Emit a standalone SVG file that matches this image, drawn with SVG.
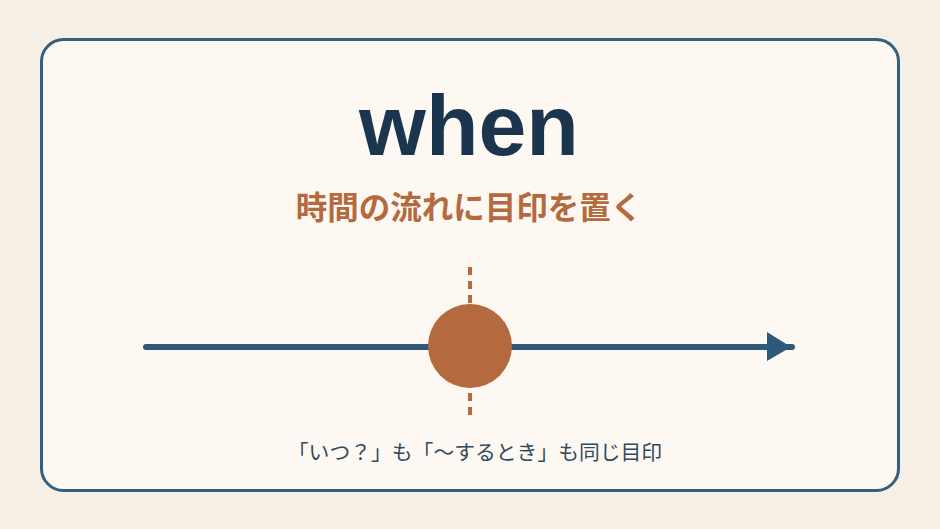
<svg xmlns="http://www.w3.org/2000/svg" width="940" height="529" viewBox="0 0 940 529">
<style>
.title{font-family:"Liberation Sans","Noto Sans",Arial,sans-serif;font-weight:bold;font-size:86px;fill:#1b354f;text-anchor:middle}
.sub{font-family:"Noto Sans CJK JP","Noto Sans",sans-serif;font-weight:bold;font-size:31.5px;fill:#b5693e;text-anchor:middle}
.note{font-family:"Noto Sans CJK JP","Noto Sans",sans-serif;font-size:20.8px;fill:#2f4b60;text-anchor:middle}
</style>
<rect x="0" y="0" width="940" height="529" fill="#f5efe5"/>
<g id="card">
<rect x="41.5" y="39.5" width="857" height="451" rx="22" fill="#fdf8f1" stroke="#33607f" stroke-width="3"/>
</g>
<g id="title"><text class="title" x="469" y="155">when</text></g>
<g id="subtitle"><text class="sub" x="469" y="219">時間の流れに目印を置く</text></g>
<g id="connectors">
<line x1="146" y1="347" x2="792" y2="347" stroke="#2e5a7a" stroke-width="6" stroke-linecap="round"/>
<polygon points="767,332 767,361 791,347" fill="#2e5a7a"/>
<line x1="470" y1="267" x2="470" y2="416" stroke="#b5693e" stroke-width="4" stroke-dasharray="8,6"/>
</g>
<g id="marker"><circle cx="470" cy="346" r="42" fill="#b46a3e"/></g>
<g id="note"><text class="note" x="475" y="460">「いつ？」も「〜するとき」も同じ目印</text></g>
</svg>
